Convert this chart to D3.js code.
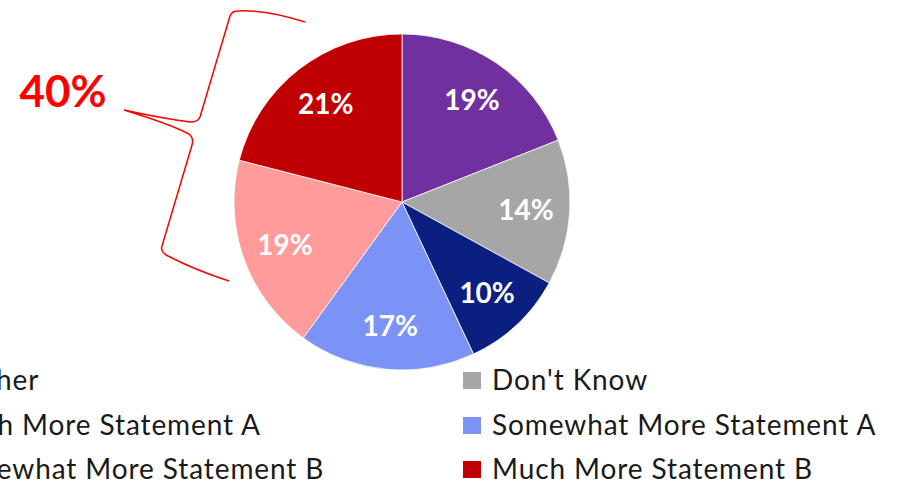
<!DOCTYPE html>
<html>
<head>
<meta charset="utf-8">
<script src="https://cdn.jsdelivr.net/npm/d3@7"></script>
<style>
  html, body { margin: 0; padding: 0; background: #fff; }
  svg { display: block; }
</style>
</head>
<body>
<svg id="chart" width="906" height="488"></svg>
<script>
// Survey responses, in drawing order clockwise from 12 o'clock
const categories = [
  "Neither",
  "Don't Know",
  "Much More Statement A",
  "Somewhat More Statement A",
  "Somewhat More Statement B",
  "Much More Statement B"
];
const values = [19, 14, 10, 17, 19, 21];
const colors = ["#7030A0", "#A6A6A6", "#0A1F80", "#7B93F7", "#FF9B9B", "#C00000"];
// Combined share of the two "Statement B" slices
const bracketLabel = "40%";

const svg = d3.select("#chart");
const cx = 402, cy = 202, R = 168;

const data = categories.map((c, i) => ({ name: c, value: values[i], color: colors[i] }));

const pie = d3.pie().value(d => d.value).sort(null);
const arc = d3.arc().innerRadius(0).outerRadius(R);
const labelArc = d3.arc().innerRadius(R * 0.74).outerRadius(R * 0.74);

const g = svg.append("g").attr("transform", `translate(${cx},${cy})`);
const arcs = pie(data);

g.selectAll("path.slice")
  .data(arcs)
  .enter().append("path")
  .attr("class", "slice")
  .attr("d", arc)
  .attr("fill", d => d.data.color)
  .attr("stroke", "#fff")
  .attr("stroke-width", 0.75);

g.selectAll("text.val")
  .data(arcs)
  .enter().append("text")
  .attr("class", "val")
  .attr("transform", d => `translate(${labelArc.centroid(d)})`)
  .attr("text-anchor", "middle")
  .attr("dy", "0.38em")
  .attr("fill", "#fff")
  .attr("font-family", "Lato, 'Open Sans', sans-serif")
  .attr("font-weight", "bold")
  .attr("font-size", 28)
  .text(d => d.data.value + "%");

// Legend: two columns, three rows
const legend = svg.append("g").attr("font-family", "Lato, 'Open Sans', sans-serif");
const colX = [-60, 492];
const rowY = [390, 435, 479];
const item = legend.selectAll("g.item")
  .data(data)
  .enter().append("g")
  .attr("class", "item")
  .attr("transform", (d, i) => `translate(${colX[i % 2]},${rowY[Math.floor(i / 2)]})`);
item.append("rect")
  .attr("x", -29).attr("y", -18)
  .attr("width", 18).attr("height", 17)
  .attr("fill", d => d.color);
item.append("text")
  .attr("x", 0).attr("y", 0)
  .attr("font-size", 28)
  .attr("letter-spacing", 0.9)
  .attr("fill", "#1a1a1a")
  .text(d => d.name);

// Red curly bracket grouping the two "Statement B" slices
const bracket = svg.append("g");
bracket.append("path")
  .attr("d", "M305,22 C280,14 255,10 238,11 Q232,11 230,16 L200,117 Q198,122 190,122 Q160,118 124,110 Q170,124 189,134 Q194,138 192,145 L162,246 Q160,252 168,256 Q195,270 229,281")
  .attr("fill", "none")
  .attr("stroke", "#FF0000")
  .attr("stroke-width", 1.5);
bracket.append("text")
  .attr("x", 63).attr("y", 107)
  .attr("text-anchor", "middle")
  .attr("font-family", "Lato, 'Open Sans', sans-serif")
  .attr("font-weight", "bold")
  .attr("font-size", 44)
  .attr("fill", "#FF0000")
  .text(bracketLabel);
</script>
</body>
</html>
